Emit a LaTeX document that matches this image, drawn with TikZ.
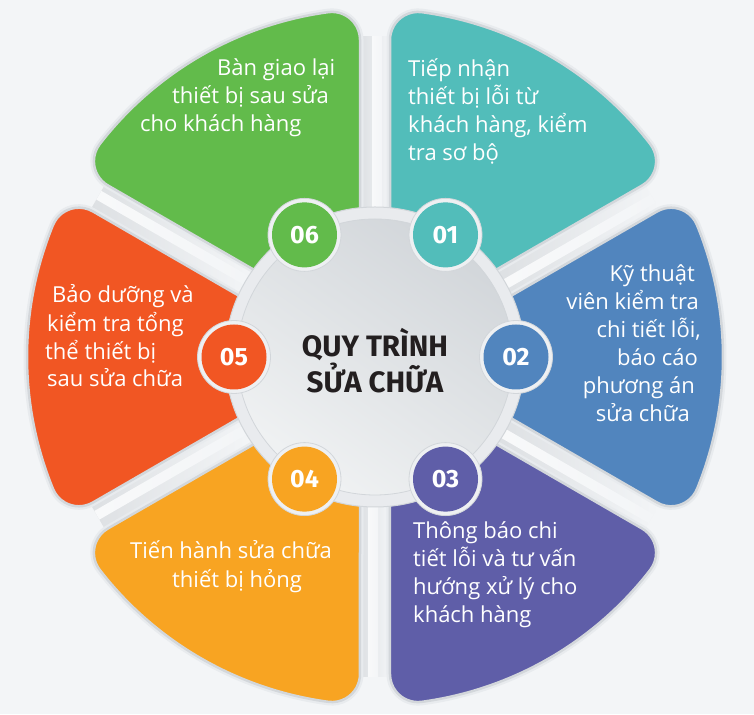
\documentclass[tikz,border=0pt]{standalone}
\usepackage{fontspec}
\setmainfont{Open Sans}
\newfontfamily\titlefont{Fira Sans}
\definecolor{bg}{HTML}{F3F5F7}
\definecolor{cA}{HTML}{52BDBA}
\definecolor{cB}{HTML}{5185BE}
\definecolor{cC}{HTML}{5F5EA8}
\definecolor{cD}{HTML}{F8A422}
\definecolor{cE}{HTML}{F15623}
\definecolor{cF}{HTML}{62BB4B}
\definecolor{spokeedge}{HTML}{DDE0E3}
\definecolor{spokelight}{HTML}{F8F9FA}
\definecolor{petalborder}{HTML}{D3D7DB}
\definecolor{petalshadow}{HTML}{E8EBEE}
\definecolor{rimcol}{HTML}{E9EBEE}
\definecolor{rimedge}{HTML}{D2D6DA}
\definecolor{diskdark}{HTML}{D2D6DA}
\definecolor{disklight}{HTML}{F0F2F3}
\definecolor{ringcol}{HTML}{EEF0F2}
\definecolor{titlecol}{HTML}{231F20}
\tikzset{
  petal/.pic={
    \path[pic actions] (30,0) -- (27.29:317.45)
      arc[start angle=120,end angle=22.28,radius=28]
      arc[start angle=22.28,end angle=-22.28,radius=348]
      arc[start angle=-22.28,end angle=-120,radius=28]
      -- cycle;
  }
}
\begin{document}
\begin{tikzpicture}[x=1pt,y=1pt,
  txt/.style={text=white,inner sep=0pt,font=\fontsize{22}{28}\selectfont},
  badgering/.style={circle,minimum size=73pt,inner sep=0pt,fill=ringcol,draw=rimedge,line width=0.8pt},
  badge/.style={circle,minimum size=65pt,inner sep=0pt,text=white,font=\titlefont\bfseries\fontsize{25}{25}\selectfont},
  titletxt/.style={inner sep=0pt,text=titlecol,font=\titlefont\bfseries\fontsize{29.5}{30}\selectfont}]
\useasboundingbox (0,0) rectangle (754,714);
\fill[bg] (0,0) rectangle (754,714);
\coordinate (O) at (375,357);
% spokes
\foreach \a in {30,90,150,210,270,330} {
  \begin{scope}[shift={(O)},rotate=\a]
    \fill[spokeedge] (0,-15) rectangle (150,15);
    \shade[left color=spokeedge,right color=bg] (149,-15) rectangle (320,15);
    \fill[spokelight] (0,-7) rectangle (150,3);
    \shade[left color=spokelight,right color=bg] (149,-7) rectangle (320,3);
  \end{scope}
}
% petals
\foreach \a/\c in {60/cA,0/cB,-60/cC,-120/cD,180/cE,120/cF} {
  \pic[rotate=\a,draw=petalshadow,line width=7pt] at (O) {petal};
  \pic[rotate=\a,fill=\c,draw=petalborder,line width=2.5pt] at (O) {petal};
}
% center disk
\node[circle,minimum size=300pt,inner sep=0pt,fill=rimcol,draw=rimedge,line width=1pt] (disk) at (O) {};
\node[circle,minimum size=276pt,inner sep=0pt,top color=diskdark,bottom color=disklight,shading angle=-35,draw=rimedge,line width=0.8pt] (inner) at (O) {};
\node[titletxt,anchor=base] (t1) at (375,357) {QUY TRÌNH};
\node[titletxt,anchor=base] (t2) at (375,321) {SỬA CHỮA};
% badges
\foreach \a/\c/\n in {60/cA/01,0/cB/02,-60/cC/03,-120/cD/04,180/cE/05,120/cF/06} {
  \node[badgering] (r\n) at ([shift={(\a:141)}]O) {};
  \node[badge,fill=\c] (b\n) at (r\n) {\n};
}
% texts 01
\node[txt,anchor=base west] (a1) at (408,637) {Tiếp nhận};
\node[txt,anchor=base west] (a2) at (408,609) {thiết bị lỗi từ};
\node[txt,anchor=base west] (a3) at (408,581) {khách hàng, kiểm};
\node[txt,anchor=base west] (a4) at (408,553) {tra sơ bộ};
% texts 02
\node[txt,anchor=base east] (e1) at (695,432) {Kỹ thuật};
\node[txt,anchor=base east] (e2) at (699,404) {viên kiểm tra};
\node[txt,anchor=base east] (e3) at (701,376) {chi tiết lỗi,};
\node[txt,anchor=base east] (e4) at (698,348) {báo cáo};
\node[txt,anchor=base east] (e5) at (695,320) {phương án};
\node[txt,anchor=base east] (e6) at (690,292) {sửa chữa};
% texts 03
\node[txt,anchor=base west] (g1) at (413,175) {Thông báo chi};
\node[txt,anchor=base west] (g2) at (413,147) {tiết lỗi và tư vấn};
\node[txt,anchor=base west] (g3) at (413,119) {hướng xử lý cho};
\node[txt,anchor=base west] (g4) at (413,91) {khách hàng};
% texts 04
\node[txt,anchor=base west] (h1) at (130,155) {Tiến hành sửa chữa};
\node[txt,anchor=base west] (h2) at (172,126) {thiết bị hỏng};
% texts 05
\node[txt,anchor=base west] (k1) at (52,411) {Bảo dưỡng và};
\node[txt,anchor=base west] (k2) at (47,382) {kiểm tra tổng};
\node[txt,anchor=base west] (k3) at (45,354) {thể thiết bị};
\node[txt,anchor=base west] (k4) at (47,327) {sau sửa chữa};
% texts 06
\node[txt,anchor=base west] (m1) at (217,638) {Bàn giao lại};
\node[txt,anchor=base west] (m2) at (172,610) {thiết bị sau sửa};
\node[txt,anchor=base west] (m3) at (140,582) {cho khách hàng};
\end{tikzpicture}
\end{document}
